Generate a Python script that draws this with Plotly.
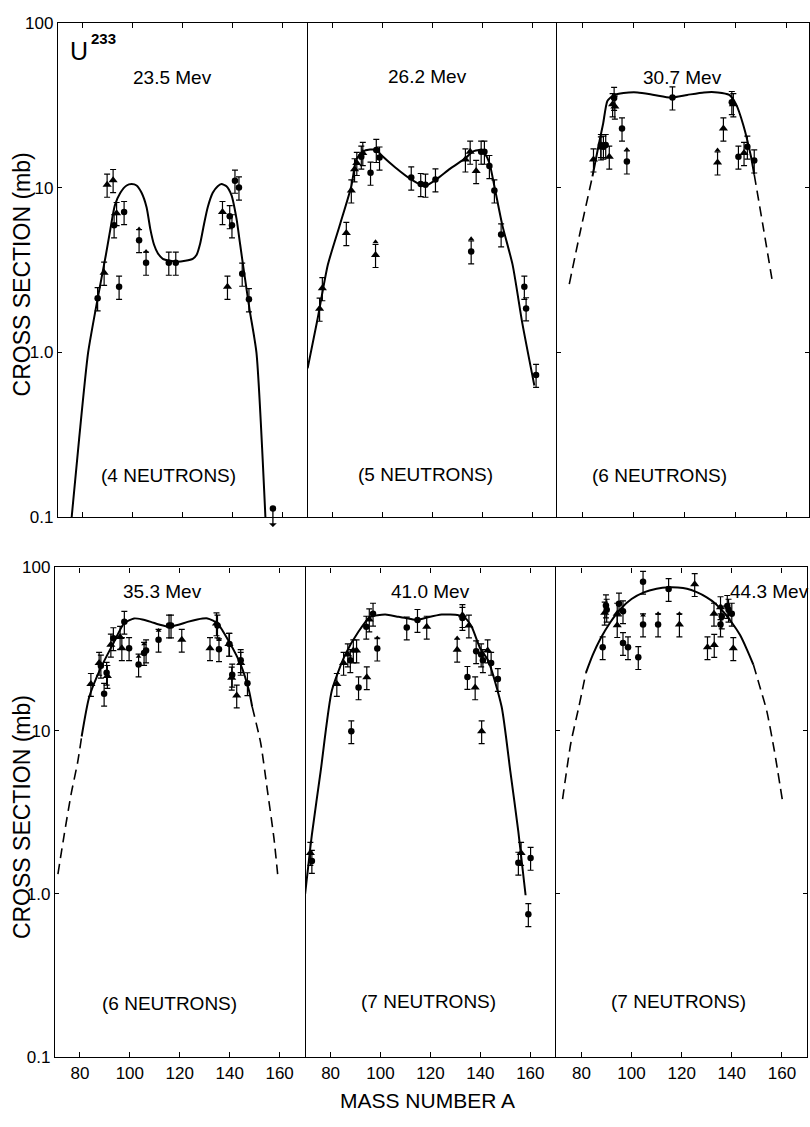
import math
import plotly.graph_objects as go

W, H = 810, 1127
FONT = "Liberation Sans"

# ------------------------------------------------------------------ data
TICK_A = [80, 100, 120, 140, 160]
TICK_A_TEXT = ["80", "100", "120", "140", "160"]
TICK_Y = [0.1, 1, 10, 100]
TICK_Y_TEXT = ["0.1", "1.0", "10", "100"]

ENERGIES = ["23.5 Mev", "26.2 Mev", "30.7 Mev", "35.3 Mev", "41.0 Mev", "44.3 Mev"]
NEUTRONS = ["(4 NEUTRONS)", "(5 NEUTRONS)", "(6 NEUTRONS)",
            "(6 NEUTRONS)", "(7 NEUTRONS)", "(7 NEUTRONS)"]

# --- panel 1 : 23.5 Mev
P1_CURVE_A = [75.5, 78.5, 82.1, 86.1, 89.2, 91.0, 92.8, 95.0, 97.5, 99.5, 101.5, 103.5,
              105.5, 107.0, 108.5, 110.0, 112.0, 115.0, 118.0, 121.0, 124.0, 125.5, 127.0,
              128.5, 130.0, 132.0, 134.0, 135.5, 137.5, 139.5, 141.5, 143.0, 144.5, 146.8,
              149.5, 153.1]
P1_CURVE_Y = [0.1, 0.3, 1.0, 2.2, 3.9, 5.6, 7.8, 9.3, 10.3, 10.5, 10.3, 9.3,
              7.6, 5.6, 4.5, 4.0, 3.7, 3.6, 3.55, 3.6, 3.7, 3.9, 4.6,
              6.0, 7.6, 9.3, 10.2, 10.5, 10.2, 9.0, 6.5, 4.5, 3.1, 1.8,
              1.0, 0.1]
P1_CIRC_A = [85.9, 92.5, 94.5, 96.5, 102.5, 105.3, 114.4, 117.2, 138.8, 139.7, 140.9,
             142.5, 143.8, 146.5]
P1_CIRC_Y = [2.13, 5.9, 2.5, 7.1, 4.8, 3.5, 3.5, 3.5, 6.7, 5.9, 11.0,
             10.0, 3.0, 2.1]
P1_TRI_A = [88.5, 89.7, 92.1, 93.5, 135.9, 137.9]
P1_TRI_Y = [3.04, 10.4, 11.1, 7.0, 7.1, 2.5]
P1_ARROW_A = [102.5, 105.3]
P1_ARROW_Y = [5.6, 4.1]
P1_LIMIT_A = [156.1]
P1_LIMIT_Y = [0.113]

# --- panel 2 : 26.2 Mev
P2_CURVE_A = [70, 74, 78.1, 83, 87.5, 89.5, 92, 95, 97.5, 100, 105, 111.5, 116.8,
              121.5, 127, 133.5, 136, 138.8, 141, 142.8, 144.8, 148, 152.1, 156, 160.8]
P2_CURVE_Y = [0.8, 1.6, 3.4, 6.0, 10.2, 14.8, 16.5, 17, 16.9, 15.5, 13.3, 11.2, 10.2,
              11.2, 13, 15.2, 16.5, 16.9, 16, 14.1, 10.2, 5.9, 3.4, 1.5, 0.63]
P2_CIRC_A = [91.5, 95.2, 97.5, 98.8, 111.5, 115.3, 117.2, 121.2, 135.5, 139.5, 140.8,
             142.8, 144.8, 147.5, 156.8, 157.5, 161.5]
P2_CIRC_Y = [15.4, 12.3, 16.9, 15.2, 11.5, 10.5, 10.4, 11.2, 4.1, 16.5, 16.5,
             13.5, 9.6, 5.2, 2.5, 1.85, 0.73]
P2_TRI_A = [74.8, 75.9, 85.5, 87.5, 88.8, 89.7, 92.1, 97.2, 133.2, 135.1, 137.5]
P2_TRI_Y = [1.84, 2.45, 5.3, 9.6, 12.9, 14.1, 16.2, 3.9, 14.8, 16.5, 12.6]
P2_ARROW_A = [97.2, 135.5]
P2_ARROW_Y = [4.7, 4.9]

# --- panel 3 : 30.7 Mev
P3_DASH_L_A = [74.7, 79, 83.8]
P3_DASH_L_Y = [2.6, 5.4, 11.7]
P3_CURVE_A = [83.8, 86, 88, 89.7, 92.3, 96, 101.5, 108, 114.6, 121, 127.6, 133, 137.5,
              140.1, 143, 146, 147.3]
P3_CURVE_Y = [11.7, 17.4, 24.5, 33.7, 36.5, 37.5, 37.8, 36.5, 35.2, 36.5, 37.8, 37.8, 36.5,
              32.2, 24, 15.5, 12]
P3_DASH_R_A = [147.3, 150.8, 154.4]
P3_DASH_R_Y = [12, 5.8, 2.7]
P3_CIRC_A = [87.1, 88.1, 89.0, 92.3, 95.4, 97.3, 115.2, 138.5, 141.1, 144.6, 147.3]
P3_CIRC_Y = [18.1, 17.7, 18.1, 35, 22.8, 14.4, 35.2, 33, 15.4, 17.7, 14.6]
P3_TRI_A = [84.2, 87.1, 90.4, 91.7, 92.6, 132.9, 135.2, 139.1, 143.3]
P3_TRI_Y = [14.8, 17.5, 15.4, 32, 31, 14.2, 22.8, 32, 16.2]
P3_ARROW_A = [97.3, 132.9]
P3_ARROW_Y = [17, 16.9]

# --- panel 4 : 35.3 Mev
P4_DASH_L_A = [71.2, 73.7, 76.5, 79.1, 80.7]
P4_DASH_L_Y = [1.32, 2.3, 4.1, 6.4, 9.2]
P4_CURVE_A = [80.7, 83.7, 88.4, 93.1, 97.7, 101.7, 105, 108.4, 112, 115.7, 119.5, 123.1,
              127, 131.1, 135.1, 139.7, 144.4, 147.7, 149]
P4_CURVE_Y = [9.2, 16, 24.3, 33.6, 45.4, 48.7, 48, 46.4, 44.5, 43.3, 44.5, 46.4,
              48, 48.7, 45.4, 35.2, 25.4, 17.6, 14]
P4_DASH_R_A = [149, 152.4, 155, 157.7, 159.2]
P4_DASH_R_Y = [14, 8.4, 4.4, 2.2, 1.32]
P4_CIRC_A = [88.4, 89.7, 90.7, 93.4, 97.8, 99.7, 103.5, 105.7, 106.5, 111.5, 115.7, 116.5,
             135.7, 135.1, 139.9, 141.0, 144.4, 147.1]
P4_CIRC_Y = [25, 16.8, 22.6, 36.8, 46.4, 32, 25.4, 29.9, 31, 36, 44, 44,
             31.5, 44, 34, 22, 27, 19.5]
P4_TRI_A = [84.4, 87.7, 91.0, 92.4, 96.1, 96.8, 120.8, 132.1, 134.7, 139.7, 140.8, 142.8, 144.4]
P4_TRI_Y = [19.3, 26, 21.6, 33.6, 37.5, 32, 36, 32, 45.4, 34, 21.1, 16.4, 26]
P4_ARROW_A = [103.5, 105.7, 111.5, 135.7]
P4_ARROW_Y = [28.5, 34, 41, 36]

# --- panel 5 : 41.0 Mev
P5_CURVE_A = [69.8, 71.3, 72.5, 76, 80.5, 85.9, 91.2, 95.9, 101.9, 107.2, 111.2, 114.5,
              117.9, 124.5, 131.2, 133.9, 136.5, 139.9, 143.2, 148.5, 152, 155.2, 158.1]
P5_CURVE_Y = [1.0, 1.6, 2.3, 5.6, 17.6, 29.3, 40.5, 49.8, 51.4, 49.8, 48.7, 47.6,
              49, 51.4, 51, 49, 43.3, 32, 26.7, 14, 5.6, 2.4, 0.98]
P5_CIRC_A = [72.5, 87.9, 88.3, 91.2, 94.3, 97.0, 98.7, 110.5, 114.8, 132.8, 134.8, 138.3,
             140.3, 141.0, 144.3, 147.0, 155.2, 160.1, 159.2]
P5_CIRC_Y = [1.59, 27, 9.9, 18.4, 43.3, 52, 31.8, 42.8, 47.6, 49, 21.3, 30.6,
             29.3, 27, 26, 20.7, 1.55, 1.66, 0.75]
P5_TRI_A = [71.9, 82.5, 85.2, 86.9, 89.1, 90.4, 94.5, 95.5, 118.5, 130.7, 132.8, 135.4,
            137.9, 140.5, 142.9, 156.3]
P5_TRI_Y = [1.78, 19.3, 26, 29.3, 31, 31, 21.2, 48, 43.3, 31.3, 51, 44,
            18.4, 9.9, 31, 1.78]
P5_ARROW_A = [98.7, 130.7]
P5_ARROW_Y = [37, 37]

# --- panel 6 : 44.3 Mev
P6_DASH_L_A = [72.5, 75.8, 79, 81.8]
P6_DASH_L_Y = [3.8, 8.4, 14, 22.6]
P6_CURVE_A = [81.8, 84.5, 87.7, 91.5, 95.7, 100, 104.9, 110, 114.8, 118.5, 122.1, 126,
              130, 133.5, 136.7, 140, 143.3, 146, 148.6]
P6_CURVE_Y = [22.6, 29, 36.8, 46, 55.8, 64, 70.4, 74, 75.5, 75.3, 74, 70.5,
              65.6, 60, 53.3, 46, 38.5, 31.5, 25.4]
P6_DASH_R_A = [148.6, 151, 153.9, 157, 160.2]
P6_DASH_R_Y = [25.4, 19, 13.3, 7.5, 3.73]
P6_CIRC_A = [88.5, 89.8, 90.1, 95.0, 96.6, 96.6, 98.6, 102.7, 104.6, 104.6, 110.6, 114.8,
             135.5, 136.0, 138.7, 140.0, 138.2]
P6_CIRC_Y = [32.4, 58.5, 55, 60, 53.8, 34.4, 32.4, 28.2, 81.6, 44.7, 44.7, 73.7,
             44.7, 50, 55, 52, 58]
P6_TRI_A = [89.3, 94.3, 94.3, 119.1, 125.2, 130.3, 133.0, 132.9, 135.5, 140.6]
P6_TRI_Y = [52.8, 44.3, 52, 44.7, 79, 32.4, 33.5, 52, 57, 32]
P6_ARROW_A = [104.6, 110.6, 119.1]
P6_ARROW_Y = [51, 52, 52]

ERR_PCT = 16

PANELS = [
    dict(curve=(P1_CURVE_A, P1_CURVE_Y), dash=[], circ=(P1_CIRC_A, P1_CIRC_Y),
         tri=(P1_TRI_A, P1_TRI_Y), arrow=(P1_ARROW_A, P1_ARROW_Y)),
    dict(curve=(P2_CURVE_A, P2_CURVE_Y), dash=[], circ=(P2_CIRC_A, P2_CIRC_Y),
         tri=(P2_TRI_A, P2_TRI_Y), arrow=(P2_ARROW_A, P2_ARROW_Y)),
    dict(curve=(P3_CURVE_A, P3_CURVE_Y), dash=[(P3_DASH_L_A, P3_DASH_L_Y), (P3_DASH_R_A, P3_DASH_R_Y)],
         circ=(P3_CIRC_A, P3_CIRC_Y), tri=(P3_TRI_A, P3_TRI_Y), arrow=(P3_ARROW_A, P3_ARROW_Y)),
    dict(curve=(P4_CURVE_A, P4_CURVE_Y), dash=[(P4_DASH_L_A, P4_DASH_L_Y), (P4_DASH_R_A, P4_DASH_R_Y)],
         circ=(P4_CIRC_A, P4_CIRC_Y), tri=(P4_TRI_A, P4_TRI_Y), arrow=(P4_ARROW_A, P4_ARROW_Y)),
    dict(curve=(P5_CURVE_A, P5_CURVE_Y), dash=[], circ=(P5_CIRC_A, P5_CIRC_Y),
         tri=(P5_TRI_A, P5_TRI_Y), arrow=(P5_ARROW_A, P5_ARROW_Y)),
    dict(curve=(P6_CURVE_A, P6_CURVE_Y), dash=[(P6_DASH_L_A, P6_DASH_L_Y), (P6_DASH_R_A, P6_DASH_R_Y)],
         circ=(P6_CIRC_A, P6_CIRC_Y), tri=(P6_TRI_A, P6_TRI_Y), arrow=(P6_ARROW_A, P6_ARROW_Y)),
]

# ------------------------------------------------------------------ layout geometry (px)
X_DOM = [(58, 308), (308, 558), (558, 810), (55, 305), (306, 556), (557, 808)]
X_RANGE = [(70, 170), (70, 170), (70, 168.8), (70, 170), (70, 170), (70, 170)]
Y_DOM = [(14, 517)] * 3 + [(568, 1066)] * 3
TITLE_POS = [(173, 70), (428, 69), (683, 70), (163, 592), (431, 592), (770, 592)]
NEUT_POS = [(169, 474), (426, 473), (660, 474), (170, 1012), (429, 1010), (679, 1010)]


def fx(p):
    return p / W


def fy(p):
    return 1 - p / H


fig = go.Figure()
LW = 1.2
err = dict(type="percent", value=ERR_PCT, thickness=1.2, width=3, color="black")

for i, pnl in enumerate(PANELS):
    n = i + 1
    xa, ya = f"x{n}", f"y{n}"
    for (da, dy) in pnl["dash"]:
        fig.add_trace(go.Scatter(x=da, y=dy, xaxis=xa, yaxis=ya, mode="lines",
                                 line=dict(color="black", width=1.6, dash="10px,6px",
                                           shape="spline", smoothing=0.6),
                                 showlegend=False, hoverinfo="skip"))
    ca, cy = pnl["curve"]
    fig.add_trace(go.Scatter(x=ca, y=cy, xaxis=xa, yaxis=ya, mode="lines",
                             line=dict(color="black", width=2, shape="spline", smoothing=0.6),
                             showlegend=False, hoverinfo="skip"))
    ta, ty = pnl["tri"]
    fig.add_trace(go.Scatter(x=ta, y=ty, xaxis=xa, yaxis=ya, mode="markers",
                             marker=dict(symbol="triangle-up", size=8, color="black"),
                             error_y=err, showlegend=False))
    pa, py = pnl["circ"]
    fig.add_trace(go.Scatter(x=pa, y=py, xaxis=xa, yaxis=ya, mode="markers",
                             marker=dict(symbol="circle", size=6.5, color="black"),
                             error_y=err, showlegend=False))
    aa, ay = pnl["arrow"]
    fig.add_trace(go.Scatter(x=aa, y=ay, xaxis=xa, yaxis=ya, mode="markers",
                             marker=dict(symbol="triangle-up", size=5, color="black"),
                             showlegend=False))

# upper-limit point in panel 1 (arrow downward)
fig.add_trace(go.Scatter(x=P1_LIMIT_A, y=P1_LIMIT_Y, xaxis="x1", yaxis="y1", mode="markers",
                         marker=dict(symbol="circle", size=6.5, color="black"),
                         cliponaxis=False, showlegend=False))

layout = dict(
    width=W, height=H, margin=dict(l=0, r=0, t=0, b=0),
    paper_bgcolor="white", plot_bgcolor="white",
    font=dict(family=FONT, color="black", size=17),
    showlegend=False,
)
for i in range(6):
    n = i + 1
    sfx = "" if n == 1 else str(n)
    leftmost = n in (1, 4)
    rightmost = n in (3, 6)
    layout[f"xaxis{sfx}"] = dict(
        domain=[fx(X_DOM[i][0]), fx(X_DOM[i][1])], range=list(X_RANGE[i]),
        anchor=f"y{n}", tickvals=TICK_A, ticktext=TICK_A_TEXT,
        ticks="inside", ticklen=5, tickwidth=1.2, tickcolor="black",
        showline=True, linecolor="black", linewidth=LW, mirror="ticks",
        showgrid=False, zeroline=False, showticklabels=n >= 4,
        tickfont=dict(size=17, family=FONT), fixedrange=True,
    )
    layout[f"yaxis{sfx}"] = dict(
        domain=[fy(Y_DOM[i][1]), fy(Y_DOM[i][0])], type="log", range=[-1, 2],
        anchor=f"x{n}", tickvals=TICK_Y, ticktext=TICK_Y_TEXT,
        ticks="inside" if (leftmost or rightmost) else "", ticklen=4, tickwidth=1.2,
        tickcolor="black",
        showline=True, linecolor="black", linewidth=LW,
        mirror="ticks" if rightmost else False,
        showgrid=False, zeroline=False, showticklabels=leftmost,
        tickfont=dict(size=17, family=FONT), fixedrange=True,
    )
fig.update_layout(**layout)


def txt(text, x, y, size, angle=0):
    return dict(text=text, x=fx(x), y=fy(y), xref="paper", yref="paper", showarrow=False,
                xanchor="center", yanchor="middle", textangle=angle,
                font=dict(size=size, family=FONT))


ann = []
for i in range(6):
    ann.append(txt(ENERGIES[i], TITLE_POS[i][0], TITLE_POS[i][1], 19))
    ann.append(txt(NEUTRONS[i], NEUT_POS[i][0], NEUT_POS[i][1], 19))
ann.append(txt("U", 79, 43, 25))
ann.append(txt("<b>233</b>", 104, 30, 15))
ann.append(txt("CROSS SECTION (mb)", 22, 270, 23, -90))
ann.append(txt("CROSS SECTION (mb)", 22, 822, 23, -90))
ann.append(txt("MASS NUMBER A", 428, 1110, 21))
# downward arrow on the upper-limit point
ann.append(dict(text="", x=P1_LIMIT_A[0], y=math.log10(P1_LIMIT_Y[0]), xref="x", yref="y",
                showarrow=True, ax=0, ay=20, arrowside="start", arrowhead=2,
                arrowsize=1, arrowwidth=1.3, arrowcolor="black", standoff=0, startstandoff=0))
fig.update_layout(annotations=ann)

fig.write_html("out.html")
